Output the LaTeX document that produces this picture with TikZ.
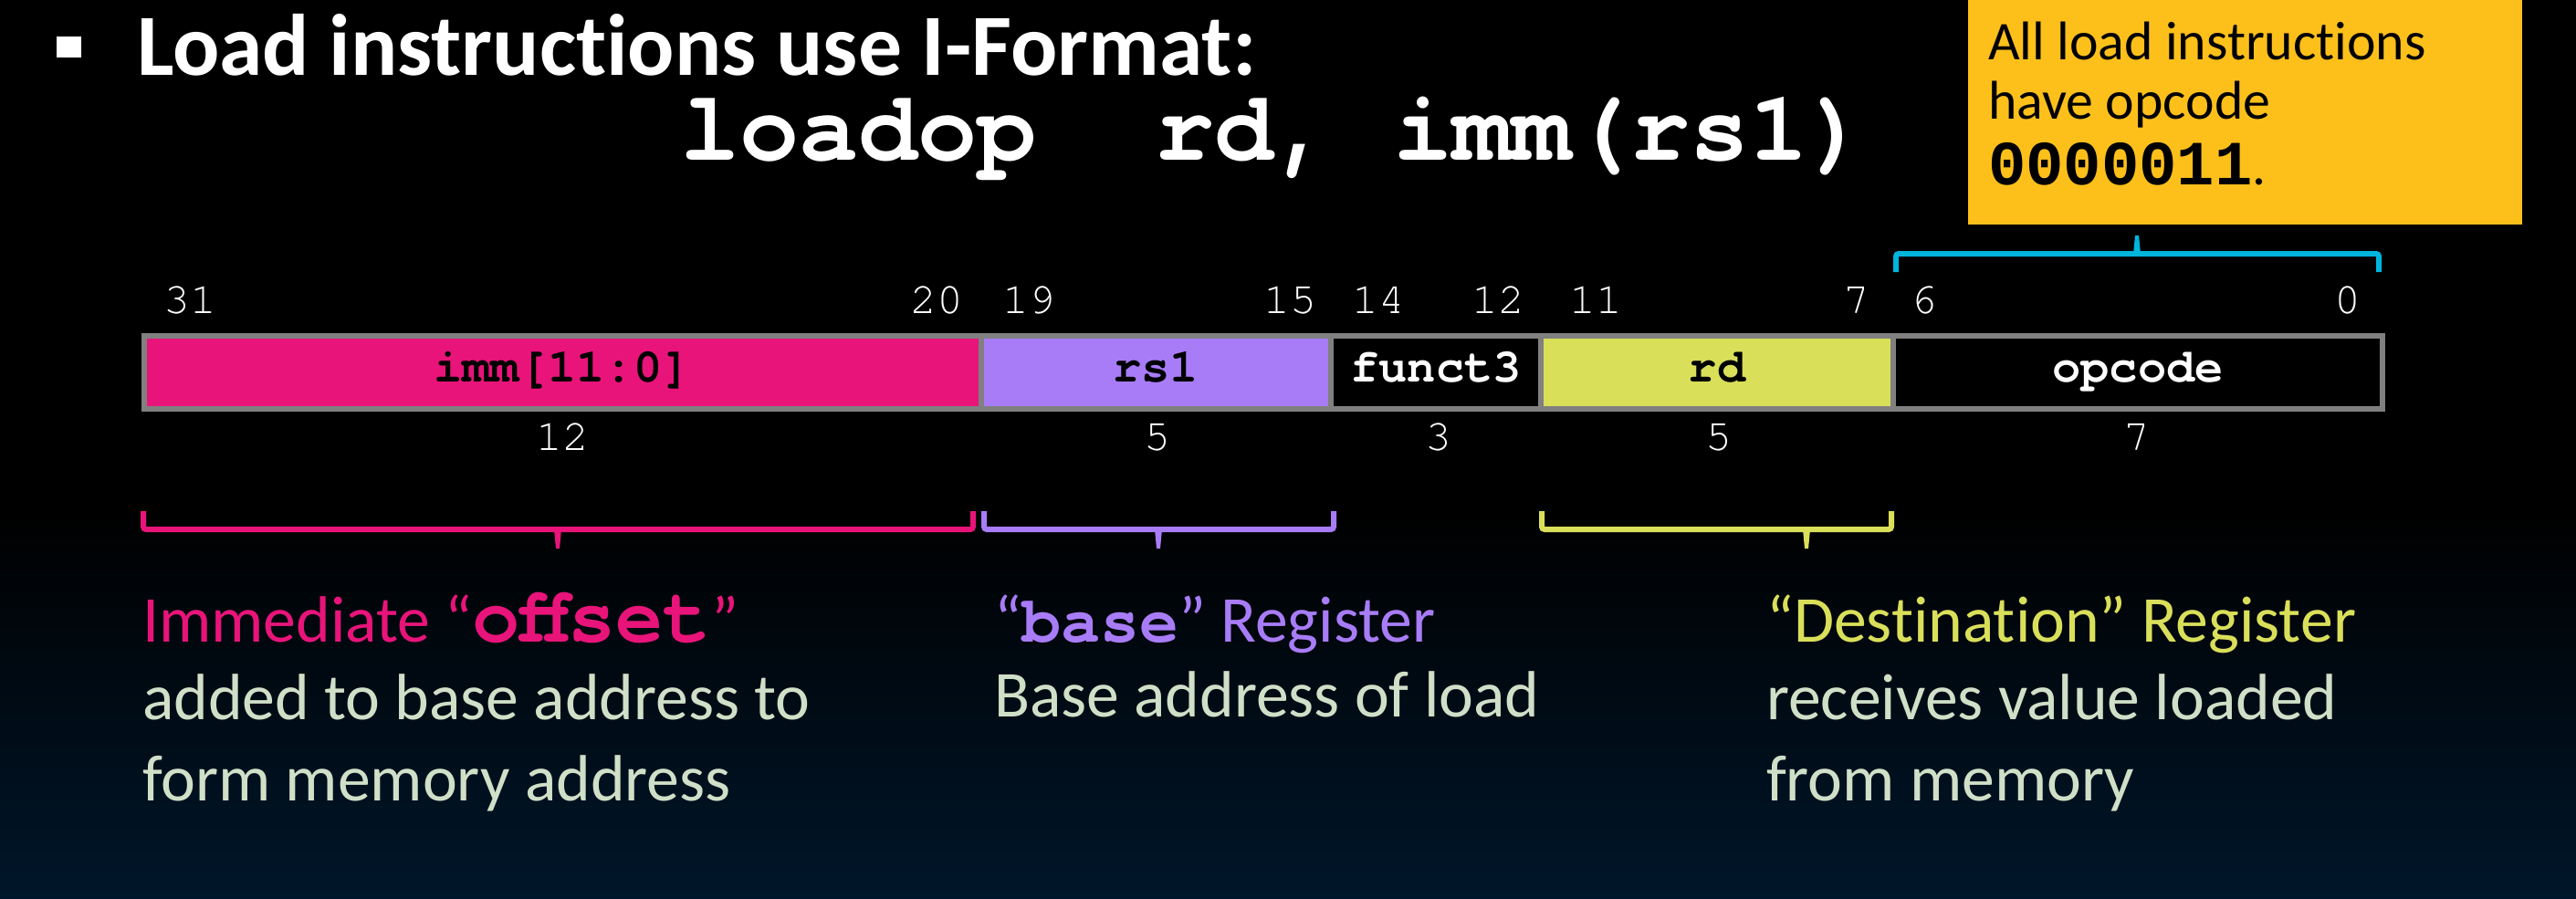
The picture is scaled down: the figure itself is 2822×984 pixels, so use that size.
\documentclass[tikz,border=0pt]{standalone}
\usepackage{fontspec}
\setmainfont[Ligatures=NoCommon]{Carlito}
\newfontfamily\courfont{TeX Gyre Cursor}
\newfontfamily\lmonofont{Liberation Mono}
\definecolor{pinkc}{RGB}{232,20,122}
\definecolor{purpc}{RGB}{168,124,247}
\definecolor{yelc}{RGB}{218,223,90}
\definecolor{goldc}{RGB}{253,192,26}
\definecolor{cyanc}{RGB}{0,180,220}
\definecolor{grayc}{RGB}{128,128,128}
\definecolor{textc}{RGB}{208,224,200}
\definecolor{navyc}{RGB}{0,22,42}
\begin{document}
\begin{tikzpicture}[x=0.01cm,y=-0.01cm,
  txt/.style={inner sep=0pt,outer sep=0pt,anchor=base west},
  ctr/.style={inner sep=0pt,outer sep=0pt,anchor=base},
  cell/.style={draw=grayc,line width=0.06cm},
  bitnum/.style={ctr,text=white,font=\courfont\fontsize{13.7}{16}\selectfont},
  fieldlab/.style={ctr,font=\courfont\bfseries\fontsize{14.8}{17}\selectfont},
  bracepath/.style={line width=0.06cm,rounded corners=0.03cm},
  big/.style={txt,font=\fontsize{20.4}{24}\selectfont},
  boxtxt/.style={txt,text=black,font=\fontsize{17}{20}\selectfont},
]
\useasboundingbox (0,0) rectangle (2822,984);
\fill[black] (0,0) rectangle (2822,984);
\shade[top color=black,bottom color=navyc] (0,560) rectangle (2822,984);

% title
\fill[white] (62,40) rectangle (89,63);
\node[txt,text=white,font=\bfseries\fontsize{27.2}{31}\selectfont] (title) at (150,82) {Load instructions use I-Format:};
\node[txt,text=white,font=\courfont\bfseries\fontsize{30.85}{36}\selectfont] (syntax) at (745,175) {loadop\ \ rd, imm(rs1)};

% yellow note
\fill[goldc] (2156,0) rectangle (2763,246);
\node[boxtxt] (n1) at (2178,65) {All load instructions};
\node[boxtxt] (n2) at (2178,130) {have opcode};
\node[boxtxt] (n3) at (2178,202) {{\lmonofont\bfseries\fontsize{19.6}{23}\selectfont 0000011}.};

% cyan brace
\draw[bracepath,cyanc] (2077,298) -- (2077,278) -- (2606,278) -- (2606,298);
\fill[cyanc] (2337,278) -- (2345,278) -- (2343,258) -- (2339,258) -- cycle;

% cells
\draw[cell,fill=pinkc] (158,368) rectangle (1075,448);
\draw[cell,fill=purpc] (1075,368) rectangle (1458,448);
\draw[cell,fill=black] (1458,368) rectangle (1688,448);
\draw[cell,fill=yelc] (1688,368) rectangle (2074,448);
\draw[cell,fill=black] (2074,368) rectangle (2610,448);

\node[fieldlab,text=black] (fimm) at (616,418) {imm[11:0]};
\node[fieldlab,text=black] (frs1) at (1266,418) {rs1};
\node[fieldlab,text=white] (ff3) at (1573,418) {funct3};
\node[fieldlab,text=black] (frd) at (1881,418) {rd};
\node[fieldlab,text=white] (fop) at (2342,418) {opcode};

% bit numbers
\node[bitnum] (b31) at (208,343) {31};
\node[bitnum] (b20) at (1026,343) {20};
\node[bitnum] (b19) at (1127,343) {19};
\node[bitnum] (b15) at (1413,343) {15};
\node[bitnum] (b14) at (1510,343) {14};
\node[bitnum] (b12) at (1641,343) {12};
\node[bitnum] (b11) at (1748,343) {11};
\node[bitnum] (b7) at (2034,343) {7};
\node[bitnum] (b6) at (2108,343) {6};
\node[bitnum] (b0) at (2572,343) {0};

% widths
\node[bitnum] (w1) at (616,493) {12};
\node[bitnum] (w2) at (1268,493) {5};
\node[bitnum] (w3) at (1576,493) {3};
\node[bitnum] (w4) at (1883,493) {5};
\node[bitnum] (w5) at (2341,493) {7};

% lower braces
\draw[bracepath,pinkc] (157,560) -- (157,580) -- (1066,580) -- (1066,560);
\fill[pinkc] (607,580) -- (615,580) -- (613,601) -- (609,601) -- cycle;
\draw[bracepath,purpc] (1078,560) -- (1078,580) -- (1461,580) -- (1461,560);
\fill[purpc] (1265,580) -- (1273,580) -- (1271,601) -- (1267,601) -- cycle;
\draw[bracepath,yelc] (1689,560) -- (1689,580) -- (2072,580) -- (2072,560);
\fill[yelc] (1975,580) -- (1983,580) -- (1981,601) -- (1977,601) -- cycle;

% lower texts
\node[big,text=pinkc] (t1a) at (156,703) {Immediate “{\courfont\bfseries\fontsize{24.8}{28}\selectfont offset}”};
\node[big,text=textc] (t1b) at (156,788) {added to base address to};
\node[big,text=textc] (t1c) at (156,877) {form memory address};
\node[big,text=purpc] (t2a) at (1089,703) {“{\courfont\bfseries base}” Register};
\node[big,text=textc] (t2b) at (1089,785) {Base address of load};
\node[big,text=yelc] (t3a) at (1935,703) {“Destination” Register};
\node[big,text=textc] (t3b) at (1935,788) {receives value loaded};
\node[big,text=textc] (t3c) at (1935,877) {from memory};
\end{tikzpicture}
\end{document}
